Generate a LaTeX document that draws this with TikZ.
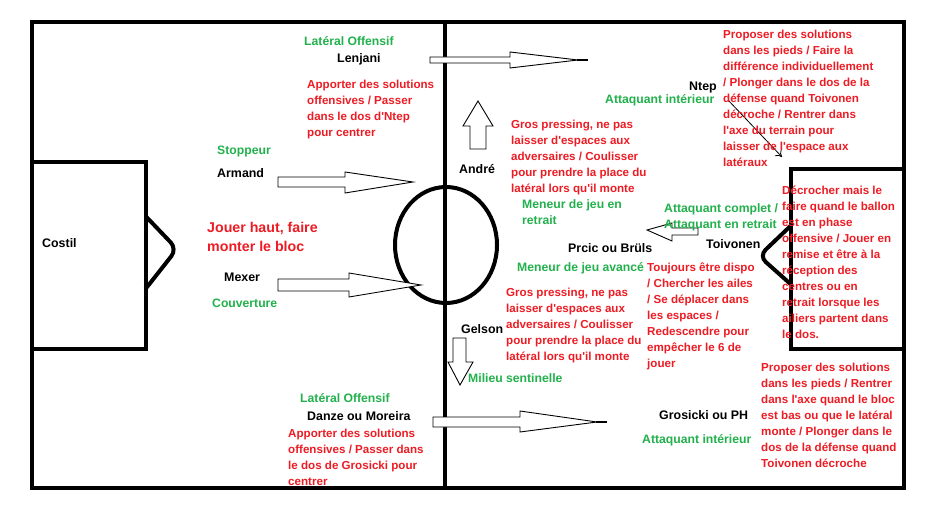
\documentclass[tikz,border=0pt]{standalone}
\usepackage{fontspec}
\setmainfont{Liberation Sans}
\usetikzlibrary{arrows.meta}
\definecolor{pred}{RGB}{237,28,36}
\definecolor{pgreen}{RGB}{34,177,76}
\newcommand\apo{\textquotesingle}
\begin{document}
\begin{tikzpicture}[x=1pt,y=-1pt,
  fieldline/.style={line width=4pt, line join=miter},
  blockarrow/.style={draw=black, line width=0.9pt, fill=white, line join=miter},
  tipline/.style={line width=1.8pt},
  namelbl/.style={anchor=base west, inner sep=0pt, font=\bfseries\fontsize{12.4}{15}\selectfont, text=black},
  rolelbl/.style={anchor=base west, inner sep=0pt, align=left, font=\bfseries\fontsize{12.2}{16}\selectfont, text=pgreen},
  notelbl/.style={anchor=base west, inner sep=0pt, align=left, font=\bfseries\fontsize{11.6}{16}\selectfont, text=pred},
  bignote/.style={anchor=base west, inner sep=0pt, align=left, font=\bfseries\fontsize{14.2}{19}\selectfont, text=pred},
]
\useasboundingbox (0,0) rectangle (952,510);
\fill[white] (0,0) rectangle (952,510);

% field
\draw[fieldline] (32,22) rectangle (904,488);
\draw[fieldline] (445,22) -- (445,488);
\draw[fieldline] (32,162) -- (145.5,162) -- (145.5,348.7) -- (32,348.7);
\draw[fieldline] (904,169) -- (790.5,169) -- (790.5,348.7) -- (904,348.7);
\draw[fieldline, rounded corners=9pt] (145.5,216) -- (177,249) -- (145.5,289);
\draw[fieldline, rounded corners=9pt] (790.5,226) -- (759,256) -- (790.5,284);
\draw[fieldline] (446,245) ellipse [x radius=51, y radius=58];

% block arrows
\draw[blockarrow] (430,57) -- (510,57) -- (510,52) -- (578,60) -- (510,68) -- (510,63) -- (430,63) -- cycle;
\draw[tipline] (577,60) -- (588,60);
\draw[blockarrow] (278,177) -- (345,177) -- (345,172) -- (413,182) -- (345,193) -- (345,187) -- (278,187) -- cycle;
\draw[blockarrow] (278,279) -- (349,279) -- (349,273) -- (421,285) -- (349,297) -- (349,291) -- (278,291) -- cycle;
\draw[blockarrow] (470,149) -- (470,126) -- (463,126) -- (478,101) -- (493,126) -- (486,126) -- (486,149) -- cycle;
\draw[blockarrow] (453,338) -- (466,338) -- (466,362) -- (473,362) -- (460,385) -- (448,362) -- (453,362) -- cycle;
\draw[blockarrow] (698,228) -- (672,228) -- (672,223) -- (647,230) -- (672,241) -- (672,235) -- (698,235) -- cycle;
\draw[blockarrow] (433,417) -- (520,417) -- (520,411) -- (597,422) -- (520,432) -- (520,427) -- (433,427) -- cycle;
\draw[tipline] (596,422) -- (607,422);

% names
\node[namelbl] (costil) at (42,248) {Costil};
\node[namelbl] (armand) at (217,178) {Armand};
\node[namelbl] (mexer) at (224,282) {Mexer};
\node[namelbl] (lenjani) at (337,63) {Lenjani};
\node[namelbl] (andre) at (459,174) {André};
\node[namelbl] (gelson) at (461,334) {Gelson};
\node[namelbl] (danze) at (307,420) {Danze ou Moreira};
\node[namelbl] (prcic) at (568,253) {Prcic ou Brüls};
\node[namelbl] (ntep) at (689,91) {Ntep};
\node[namelbl] (toivonen) at (706,249) {Toivonen};
\node[namelbl] (grosicki) at (659,419) {Grosicki ou PH};

% thin arrow from Ntep
\coordinate (ntepfrom) at (728,100);
\coordinate (ntepto) at (782,157);
\draw[line width=0.8pt, -{To[length=6pt,width=9pt]}] (ntepfrom) -- (ntepto);

% roles (anchor = baseline of last line)
\node[rolelbl] (rlenjani) at (304,46) {Latéral Offensif};
\node[rolelbl] (rarmand) at (217,155) {Stoppeur};
\node[rolelbl] (rmexer) at (212,308) {Couverture};
\node[rolelbl] (rntep) at (605,104) {Attaquant intérieur};
\node[rolelbl] (randre) at (522,225) {Meneur de jeu en\\retrait};
\node[rolelbl] (rtoivonen) at (664,229) {Attaquant complet /\\Attaquant en retrait};
\node[rolelbl] (rprcic) at (517,272) {Meneur de jeu avancé};
\node[rolelbl] (rgelson) at (468,382) {Milieu sentinelle};
\node[rolelbl] (rdanze) at (300,402) {Latéral Offensif};
\node[rolelbl] (rgrosicki) at (642,443) {Attaquant intérieur};

% notes (anchor = baseline of last line)
\node[notelbl] (nlenjani) at (307,137) {Apporter des solutions\\offensives / Passer\\dans le dos d\apo Ntep\\pour centrer};
\node[bignote] (njouer) at (207,252) {Jouer haut, faire\\monter le bloc};
\node[notelbl] (nandre) at (511,193) {Gros pressing, ne pas\\laisser d\apo espaces aux\\adversaires / Coulisser\\pour prendre la place du\\latéral lors qu\apo il monte};
\node[notelbl] (ngelson) at (506,360) {Gros pressing, ne pas\\laisser d\apo espaces aux\\adversaires / Coulisser\\pour prendre la place du\\latéral lors qu\apo il monte};
\node[notelbl] (nntep) at (723,167) {Proposer des solutions\\dans les pieds / Faire la\\différence individuellement\\/ Plonger dans le dos de la\\défense quand Toivonen\\décroche / Rentrer dans\\l\apo axe du terrain pour\\laisser de l\apo espace aux\\latéraux};
\node[notelbl] (ndecro) at (782,338) {Décrocher mais le\\faire quand le ballon\\est en phase\\offensive / Jouer en\\remise et être à la\\réception des\\centres ou en\\retrait lorsque les\\ailiers partent dans\\le dos.};
\node[notelbl] (ntoivonen) at (647,367) {Toujours être dispo\\/ Chercher les ailes\\/ Se déplacer dans\\les espaces /\\Redescendre pour\\empêcher le 6 de\\jouer};
\node[notelbl] (ngrosicki) at (761,467) {Proposer des solutions\\dans les pieds / Rentrer\\dans l\apo axe quand le bloc\\est bas ou que le latéral\\monte / Plonger dans le\\dos de la défense quand\\Toivonen décroche};
\node[notelbl] (ndanze) at (288,485) {Apporter des solutions\\offensives / Passer dans\\le dos de Grosicki pour\\centrer};
\end{tikzpicture}
\end{document}
